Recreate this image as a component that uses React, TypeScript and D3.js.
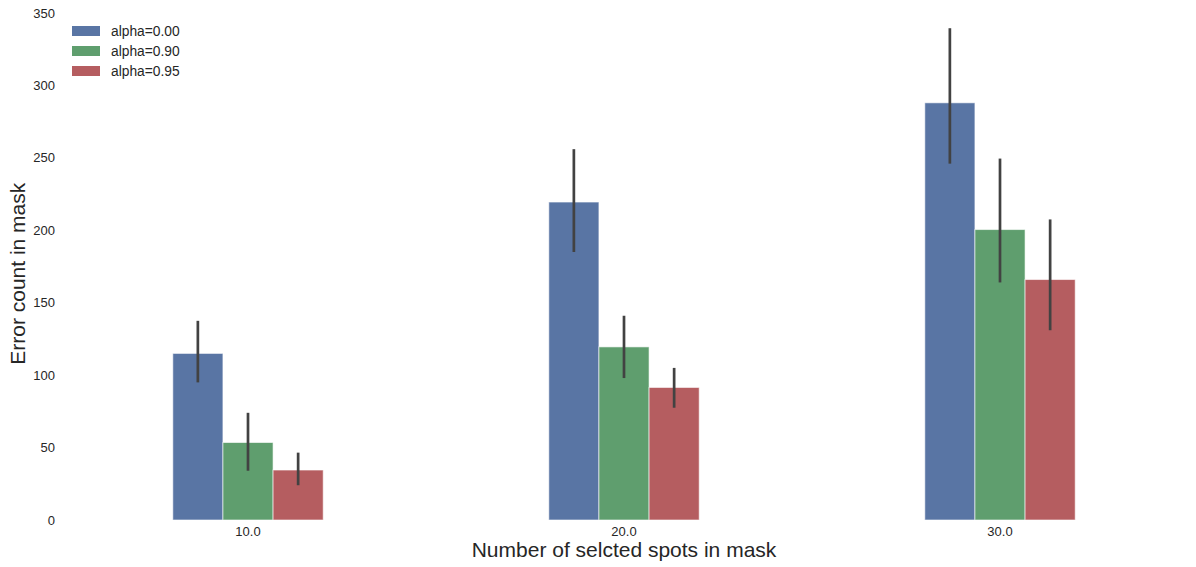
import { useEffect, useRef } from "react";
import * as d3 from "d3";

// chart values
const categories = ["10.0", "20.0", "30.0"];
const seriesNames = ["alpha=0.00", "alpha=0.90", "alpha=0.95"];
const alpha000 = [115, 219.5, 288];
const alpha090 = [53.5, 119.5, 200.5];
const alpha095 = [34.5, 91.5, 166];
const alpha000Lo = [95, 185, 246];
const alpha000Hi = [137.5, 256, 339.5];
const alpha090Lo = [34, 98, 164];
const alpha090Hi = [74, 141, 249.5];
const alpha095Lo = [24, 77.5, 131];
const alpha095Hi = [46.5, 105, 207.5];
const yTicks = [0, 50, 100, 150, 200, 250, 300, 350];

const colors = ["#5975a4", "#5f9e6e", "#b55d60"];

const width = 1196;
const height = 567;
const margin = { top: 13, right: 8, bottom: 47, left: 60 };

export default function App() {
  const ref = useRef<SVGSVGElement>(null);

  useEffect(() => {
    const svg = d3.select(ref.current);
    svg.selectAll("*").remove();

    const font = "'Liberation Sans', Arial, sans-serif";
    const values = [alpha000, alpha090, alpha095];
    const lows = [alpha000Lo, alpha090Lo, alpha095Lo];
    const highs = [alpha000Hi, alpha090Hi, alpha095Hi];

    // categorical positions like seaborn: -0.5 .. n-0.5
    const x = d3.scaleLinear()
      .domain([-0.5, categories.length - 0.5])
      .range([margin.left, width - margin.right]);
    const y = d3.scaleLinear()
      .domain([0, 350])
      .range([height - margin.bottom, margin.top]);

    const groupWidth = 0.4;
    const barWidth = groupWidth / seriesNames.length;

    const rows = seriesNames.flatMap((name, s) => categories.map((c, i) => ({
      s, i,
      value: values[s][i],
      lo: lows[s][i],
      hi: highs[s][i],
      x0: i - groupWidth / 2 + s * barWidth,
    })));

    // bars
    svg.append("g")
      .selectAll("rect")
      .data(rows)
      .join("rect")
        .attr("x", d => x(d.x0))
        .attr("y", d => y(d.value))
        .attr("width", d => x(d.x0 + barWidth) - x(d.x0))
        .attr("height", d => y(0) - y(d.value))
        .attr("fill", d => colors[d.s])
        .attr("stroke", "#ffffff")
        .attr("stroke-opacity", 0.6)
        .attr("stroke-width", 1);

    // error bars
    svg.append("g")
      .selectAll("line")
      .data(rows)
      .join("line")
        .attr("x1", d => x(d.x0 + barWidth / 2))
        .attr("x2", d => x(d.x0 + barWidth / 2))
        .attr("y1", d => y(d.lo))
        .attr("y2", d => y(d.hi))
        .attr("stroke", "#424242")
        .attr("stroke-width", 2.7);

    // y tick labels
    svg.append("g")
      .attr("font-family", font)
      .attr("font-size", 13)
      .attr("fill", "#262626")
      .attr("text-anchor", "end")
      .selectAll("text")
      .data(yTicks)
      .join("text")
        .attr("x", 55)
        .attr("y", d => y(d))
        .attr("dy", "0.35em")
        .text(d => d);

    // x tick labels
    svg.append("g")
      .attr("font-family", font)
      .attr("font-size", 13)
      .attr("fill", "#262626")
      .attr("text-anchor", "middle")
      .selectAll("text")
      .data(categories)
      .join("text")
        .attr("x", (d, i) => x(i))
        .attr("y", height - margin.bottom + 16)
        .text(d => d);

    // axis labels
    svg.append("text")
      .attr("font-family", font)
      .attr("font-size", 21)
      .attr("fill", "#262626")
      .attr("text-anchor", "middle")
      .attr("x", x(1))
      .attr("y", 557)
      .text("Number of selcted spots in mask");

    svg.append("text")
      .attr("font-family", font)
      .attr("font-size", 21)
      .attr("fill", "#262626")
      .attr("text-anchor", "middle")
      .attr("transform", `translate(25, ${y(170)}) rotate(-90)`)
      .text("Error count in mask");

    // legend
    const legend = svg.append("g")
      .attr("font-family", font)
      .attr("font-size", 13.8)
      .attr("fill", "#262626")
      .selectAll("g")
      .data(seriesNames)
      .join("g")
        .attr("transform", (d, i) => `translate(72, ${26 + i * 20})`);
    legend.append("rect")
      .attr("width", 28)
      .attr("height", 10)
      .attr("fill", (d, i) => colors[i]);
    legend.append("text")
      .attr("x", 39)
      .attr("y", 5)
      .attr("dy", "0.35em")
      .text(d => d);
  }, []);

  return (
    <svg
      ref={ref}
      width={width}
      height={height}
      style={{ position: "absolute", left: 0, top: 0, background: "#ffffff" }}
    />
  );
}
